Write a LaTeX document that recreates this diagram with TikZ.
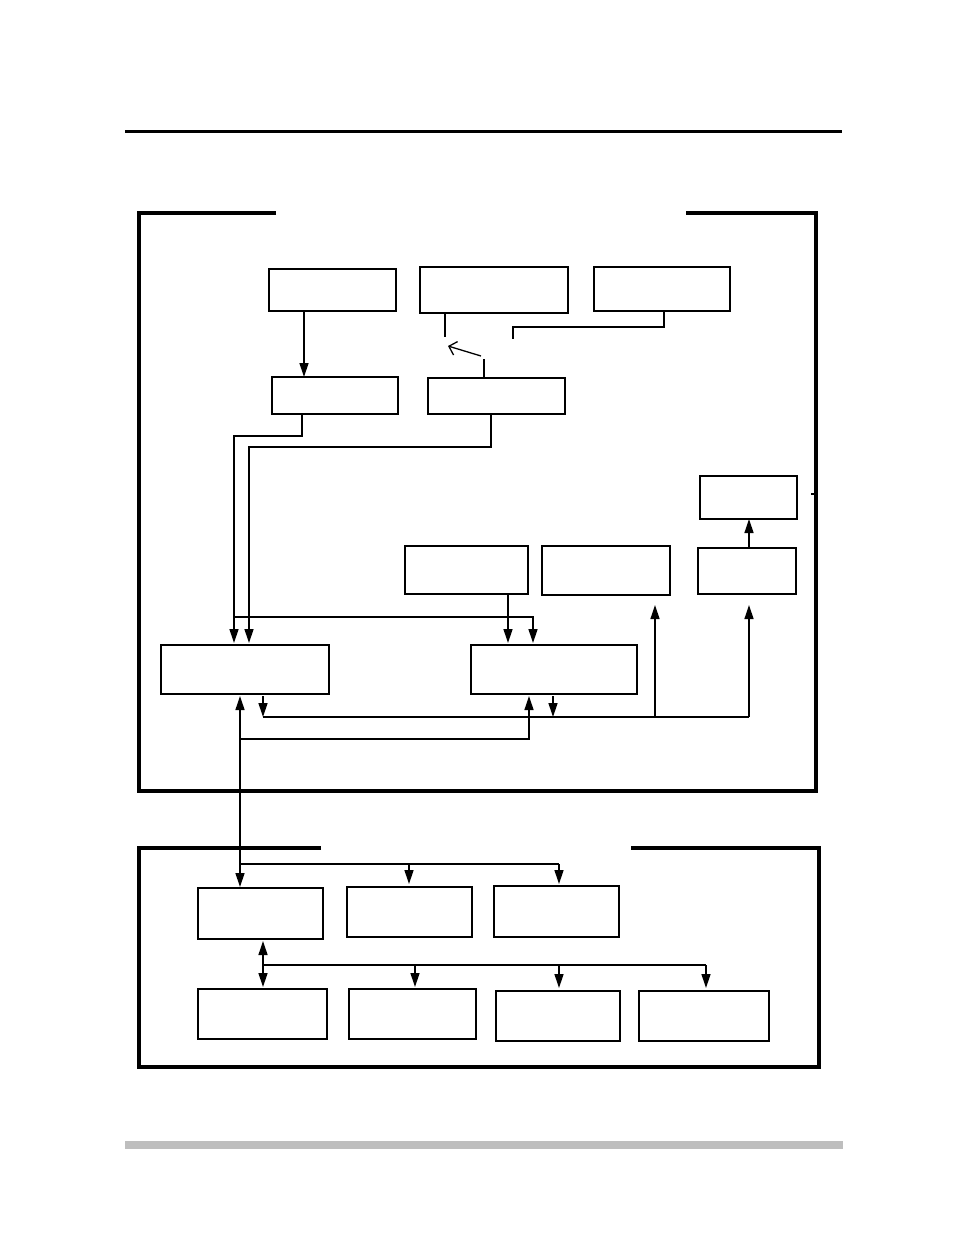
\documentclass[tikz,border=0pt]{standalone}
\usetikzlibrary{arrows.meta}
\begin{document}
\begin{tikzpicture}[x={(1pt,0)}, y={(0,-1pt)},
  box/.style={draw, line width=1.5pt, inner sep=0pt, outer sep=0pt},
  conn/.style={line width=1.3pt},
  arr/.style={conn, -{Triangle[length=14pt,width=9pt]}},
  arrtwo/.style={conn, {Triangle[length=14pt,width=9pt]}-{Triangle[length=14pt,width=9pt]}},
  openarr/.style={conn, -{Straight Barb[length=7pt,width=14pt]}},
  frame/.style={line width=3.2pt}]
\useasboundingbox (0,0) rectangle (954,1235);
% page rules
\draw[line width=3pt] (125,131) -- (842,131);
\fill[color={rgb,255:red,190;green,190;blue,190}] (125,1141) rectangle (843,1149);
% frames
\draw[frame] (276,213) -- (139,213) -- (139,791) -- (816,791) -- (816,213) -- (686,213);
\draw[line width=1.8pt] (811,494) -- (814,494);
\draw[frame] (321,848) -- (139,848) -- (139,1067) -- (819,1067) -- (819,848) -- (631,848);
% upper boxes
\node[box, minimum width=127pt, minimum height=42pt] (A) at (332.5,290) {};
\node[box, minimum width=148pt, minimum height=46pt] (B) at (494,290) {};
\node[box, minimum width=136pt, minimum height=44pt] (C) at (662,289) {};
\node[box, minimum width=126pt, minimum height=37pt] (D) at (335,395.5) {};
\node[box, minimum width=137pt, minimum height=36pt] (E) at (496.5,396) {};
\node[box, minimum width=97pt, minimum height=43pt] (F) at (748.5,497.5) {};
\node[box, minimum width=98pt, minimum height=46pt] (G) at (747,571) {};
\node[box, minimum width=123pt, minimum height=48pt] (H) at (466.5,570) {};
\node[box, minimum width=128pt, minimum height=49pt] (I) at (606,570.5) {};
\node[box, minimum width=168pt, minimum height=49pt] (J) at (245,669.5) {};
\node[box, minimum width=166pt, minimum height=49pt] (K) at (554,669.5) {};
% lower boxes
\node[box, minimum width=125pt, minimum height=51pt] (L1) at (260.5,913.5) {};
\node[box, minimum width=125pt, minimum height=50pt] (L2) at (409.5,912) {};
\node[box, minimum width=125pt, minimum height=51pt] (L3) at (556.5,911.5) {};
\node[box, minimum width=129pt, minimum height=50pt] (L4) at (262.5,1014) {};
\node[box, minimum width=127pt, minimum height=50pt] (L5) at (412.5,1014) {};
\node[box, minimum width=124pt, minimum height=50pt] (L6) at (558,1016) {};
\node[box, minimum width=130pt, minimum height=50pt] (L7) at (704,1016) {};
% free ends
\coordinate (bend) at (445,337);
\coordinate (cend) at (513,339);
\coordinate (oa1) at (481,356);
\coordinate (oa2) at (448,346);
\coordinate (estub) at (484,359);
% upper connectors
\draw[arr] (A.south -| 304,0) -- (D.north -| 304,0);
\draw[conn] (B.south -| 445,0) -- (bend);
\draw[conn] (C.south -| 664,0) |- (513,327) -- (cend);
\draw[openarr] (oa1) -- (oa2);
\draw[line width=2.4pt] (E.north -| 484,0) -- (estub);
\draw[arr, shorten >=2pt] (D.south -| 302,0) |- (234,436) -- (J.north -| 234,0);
\draw[arr, shorten >=2pt] (E.south -| 491,0) |- (249,447) -- (J.north -| 249,0);
\draw[arr, shorten >=2pt] (234,617) -| (K.north -| 533,0);
\draw[arr, shorten >=2pt] (H.south -| 508,0) -- (K.north -| 508,0);
\draw[arr, shorten <=2pt] (J.south -| 263,0) -- (263,717);
\draw[arr, shorten <=2pt] (K.south -| 553,0) -- (553,717);
\draw[conn] (263,717) -- (749,717);
\draw[arr, shorten >=10pt] (655,717) -- (I.south -| 655,0);
\draw[arr, shorten >=11pt] (749,717) -- (G.south -| 749,0);
\draw[arr] (G.north -| 749,0) -- (F.south -| 749,0);
\draw[arrtwo, shorten <=2pt, shorten >=1pt] (J.south -| 240,0) -- (L1.north -| 240,0);
\draw[arr, shorten >=2pt] (240,739) -| (K.south -| 529,0);
% lower connectors
\draw[conn] (240,864) -- (559,864);
\draw[arr, shorten >=3pt] (409,864) -- (L2.north -| 409,0);
\draw[arr, shorten >=2pt] (559,864) -- (L3.north -| 559,0);
\draw[arrtwo, shorten <=2pt, shorten >=2pt] (L1.south -| 263,0) -- (L4.north -| 263,0);
\draw[conn] (263,965) -- (706,965);
\draw[arr, shorten >=2pt] (415,965) -- (L5.north -| 415,0);
\draw[arr, shorten >=3pt] (559,965) -- (L6.north -| 559,0);
\draw[arr, shorten >=3pt] (706,965) -- (L7.north -| 706,0);
\end{tikzpicture}
\end{document}
